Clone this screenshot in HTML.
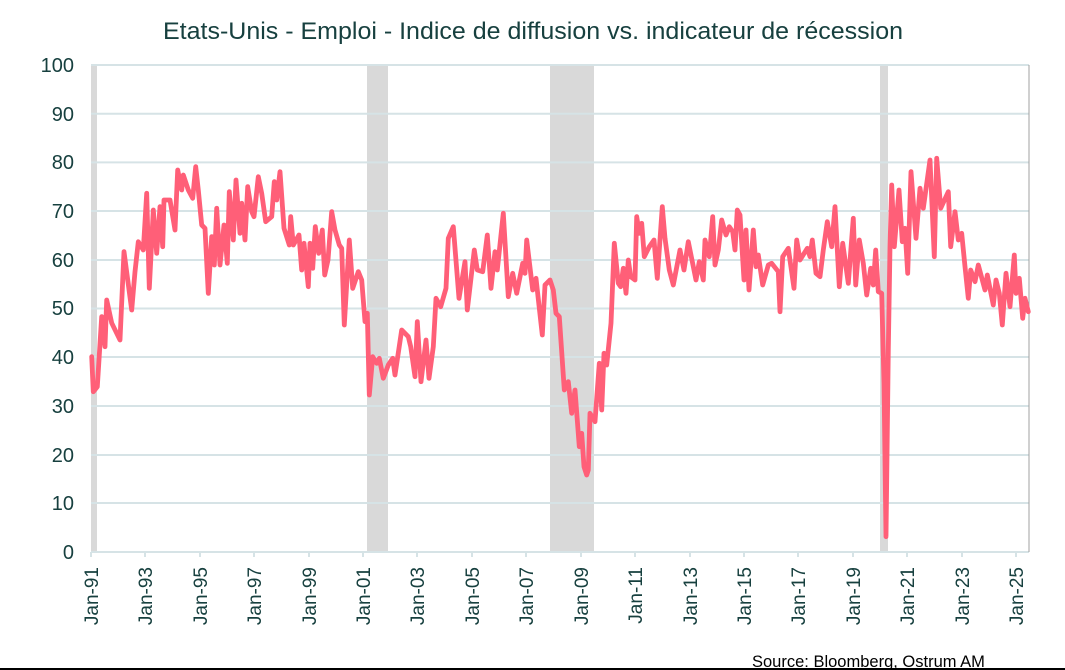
<!DOCTYPE html>
<html><head><meta charset="utf-8"><style>
body{margin:0;background:#fff;}
svg{display:block;font-family:"Liberation Sans",Arial,sans-serif;}
</style></head><body>
<svg width="1065" height="670" viewBox="0 0 1065 670" xmlns="http://www.w3.org/2000/svg">
<rect width="1065" height="670" fill="#fff"/>
<text x="533" y="39" text-anchor="middle" font-size="24" fill="#17403f" textLength="740" lengthAdjust="spacingAndGlyphs">Etats-Unis - Emploi - Indice de diffusion vs. indicateur de récession</text>
<g fill="#d9d9d9">
<rect x="91" y="65" width="6" height="487"/>
<rect x="367" y="65" width="21" height="487"/>
<rect x="550" y="65" width="44" height="487"/>
<rect x="880" y="65" width="8" height="487"/>
</g>
<g stroke="#d6e3e6" stroke-width="2">
<line x1="91" x2="1029" y1="65" y2="65"/><line x1="91" x2="1029" y1="113.7" y2="113.7"/>
<line x1="91" x2="1029" y1="162.4" y2="162.4"/><line x1="91" x2="1029" y1="211" y2="211"/>
<line x1="91" x2="1029" y1="260" y2="260"/><line x1="91" x2="1029" y1="308.5" y2="308.5"/>
<line x1="91" x2="1029" y1="357" y2="357"/><line x1="91" x2="1029" y1="406" y2="406"/>
<line x1="91" x2="1029" y1="455" y2="455"/><line x1="91" x2="1029" y1="503" y2="503"/>
<line x1="91" x2="1029" y1="552" y2="552"/>
</g>
<line x1="1029" x2="1029" y1="65" y2="552" stroke="#a0a0a0" stroke-width="1"/>
<g stroke="#d6e3e6" stroke-width="2">
<line x1="91" x2="91" y1="552" y2="557"/><line x1="145" x2="145" y1="552" y2="557"/>
<line x1="200" x2="200" y1="552" y2="557"/><line x1="254" x2="254" y1="552" y2="557"/>
<line x1="309" x2="309" y1="552" y2="557"/><line x1="363" x2="363" y1="552" y2="557"/>
<line x1="417" x2="417" y1="552" y2="557"/><line x1="472" x2="472" y1="552" y2="557"/>
<line x1="526" x2="526" y1="552" y2="557"/><line x1="581" x2="581" y1="552" y2="557"/>
<line x1="635" x2="635" y1="552" y2="557"/><line x1="690" x2="690" y1="552" y2="557"/>
<line x1="744" x2="744" y1="552" y2="557"/><line x1="798" x2="798" y1="552" y2="557"/>
<line x1="853" x2="853" y1="552" y2="557"/><line x1="907" x2="907" y1="552" y2="557"/>
<line x1="962" x2="962" y1="552" y2="557"/><line x1="1016" x2="1016" y1="552" y2="557"/>
</g>
<g font-size="20" fill="#17403f" text-anchor="end">
<text x="74" y="72">100</text><text x="74" y="121">90</text><text x="74" y="169">80</text>
<text x="74" y="218">70</text><text x="74" y="267">60</text><text x="74" y="315">50</text>
<text x="74" y="364">40</text><text x="74" y="413">30</text><text x="74" y="462">20</text>
<text x="74" y="510">10</text><text x="74" y="559">0</text>
</g>
<g font-size="19" fill="#17403f" text-anchor="end">
<text transform="translate(98,567) rotate(-90)">Jan-91</text>
<text transform="translate(152,567) rotate(-90)">Jan-93</text>
<text transform="translate(207,567) rotate(-90)">Jan-95</text>
<text transform="translate(261,567) rotate(-90)">Jan-97</text>
<text transform="translate(316,567) rotate(-90)">Jan-99</text>
<text transform="translate(370,567) rotate(-90)">Jan-01</text>
<text transform="translate(424,567) rotate(-90)">Jan-03</text>
<text transform="translate(479,567) rotate(-90)">Jan-05</text>
<text transform="translate(533,567) rotate(-90)">Jan-07</text>
<text transform="translate(588,567) rotate(-90)">Jan-09</text>
<text transform="translate(642,567) rotate(-90)">Jan-11</text>
<text transform="translate(697,567) rotate(-90)">Jan-13</text>
<text transform="translate(751,567) rotate(-90)">Jan-15</text>
<text transform="translate(805,567) rotate(-90)">Jan-17</text>
<text transform="translate(860,567) rotate(-90)">Jan-19</text>
<text transform="translate(914,567) rotate(-90)">Jan-21</text>
<text transform="translate(969,567) rotate(-90)">Jan-23</text>
<text transform="translate(1023,567) rotate(-90)">Jan-25</text>
</g>
<polyline fill="none" stroke="#ff5f78" stroke-width="4.8" stroke-linejoin="round" stroke-linecap="round" points="
91.7,356.7 93.3,391.7 97.3,386.7 101.7,316.7 105,346.7 106.7,300 111.7,323 120,340 124,251.7 131.7,310 135,271.7 138.3,241.7 143.3,250 146.7,193.3 149.3,288.3 153.3,210 156.7,253.3 160,206.7 162.7,246.7 164,200 170,200 175,230 177.7,170 181.7,190 183.3,175 188.3,190 192.7,198.3 195.7,166.7 198.3,190 201.7,225 205,228.3 208.3,293.3 211.7,236.7 214.3,265 216.7,208.3 220,265 224,225 227.3,263.3 229.3,191.7 233.3,240 236,180 240,233.3 241.7,203.3 245,240 247.7,186.7 251.7,211.7 254,216.7 258.3,176.7 261.7,193.3 265.7,221.7 271.7,216.7 274.3,181.7 276.7,200 280,171.7 284,228.3 289.3,245 290.7,216.7 293.3,245 299,235 301.7,270 304,243.3 308.3,286.7 310,243.3 312.7,268.3 315.3,226.7 318.7,253.3 322.3,230 324.7,275 328,260 331.7,211.7 335,230 339.3,245 341.7,248.3 344.3,325 349.3,240 352.7,288.3 358.3,271.7 361.7,280 365,321.7 367.3,313.3 369.3,395 372.7,356.7 376.7,363.3 379.3,358.3 383.3,378.3 388.3,365 392.7,358.3 395,375 401.7,330 405,333.3 408.3,336.7 410.7,346.7 415,376.7 417.3,321.7 421,381.7 426,340 429,378.3 433.3,346.7 436,298.3 440.7,306.7 446,288.3 448.3,238.3 453.3,226.7 459,298.3 465,261.7 467.3,310 474.3,250 477.3,270 482.7,271.7 487.3,235 491,288.3 495,251.7 497.3,270 503.3,213.3 508.3,296.7 512.7,273.3 516.7,293.3 522.7,263.3 525,273.3 526.7,240 532.7,290 536,278.3 542.3,335 545,285 550,280 553.3,290 556,313.3 559.3,316.7 564.3,390 568.3,381.7 571.7,413.3 575,390 579.3,446.7 581.7,433.3 584,466.7 586.7,475 588.3,470 590,413.3 595,421.7 599.3,363.3 601.7,410 604,353.3 606.7,365 611,323.3 614.3,243.3 618.3,283.3 620.7,286.7 623.3,268.3 626,293.3 628.3,260 630.7,276.7 635,280 636.7,216.7 639.3,233.3 641.7,223.3 644.3,256.7 649.3,246.7 654,240 657.3,278.3 662.3,206.7 665,238.3 669.3,270 673.3,285 680,250 684,270 688.3,241.7 696,280 699.3,261.7 703.3,280 705,240 709.3,256.7 712.7,216.7 715,265 718.3,250 721.7,220 726,235 729.3,226.7 732.7,231.7 735,250 737.3,210 740,215 744,280 746,230 749,290 753.3,230 756,266.7 758.3,255 762.7,285 768.3,265 771.7,263.3 778.3,271.7 780,311.7 782.7,256.7 788.3,248.3 794,288.3 796.7,240 800,260 807.3,248.3 810,256.7 812.3,240 816,273.3 820,276.7 823.3,250 827.3,221.7 831.7,246.7 835,206.7 839.3,286.7 842.7,243.3 848.3,283.3 853.3,218.3 855.7,285 859.3,240 863.3,263.3 866.7,295 870.7,268.3 873.3,285 875.7,250 878.3,291.7 881.7,293.3 884,383.3 886,536.7 888.3,350 890,246.7 891.7,185 894.3,246.7 899,190 902.3,241.7 905,228.3 907.7,273.3 911,171.7 916,238.3 920,188.3 923.3,208.3 930,160 934.3,256.7 936.7,158.3 940.7,208.3 948.3,191.7 950.7,246.7 955,211.7 958.3,240 961.7,233.3 965,266.7 968.3,298.3 970.7,270 975,281.7 978.3,265 985,290 987.3,275 993.3,305 996,280 999.3,293.3 1002.3,325 1006,273.3 1010,306.7 1014.3,255 1016,293.3 1019.3,278.3 1022.7,318.3 1025,298.3 1028.3,311.7"/>
<text x="752" y="667" font-size="16.5" fill="#000">Source: Bloomberg, Ostrum AM</text>
<line x1="0" x2="1065" y1="669" y2="669" stroke="#000" stroke-width="2"/>
</svg>
</body></html>
